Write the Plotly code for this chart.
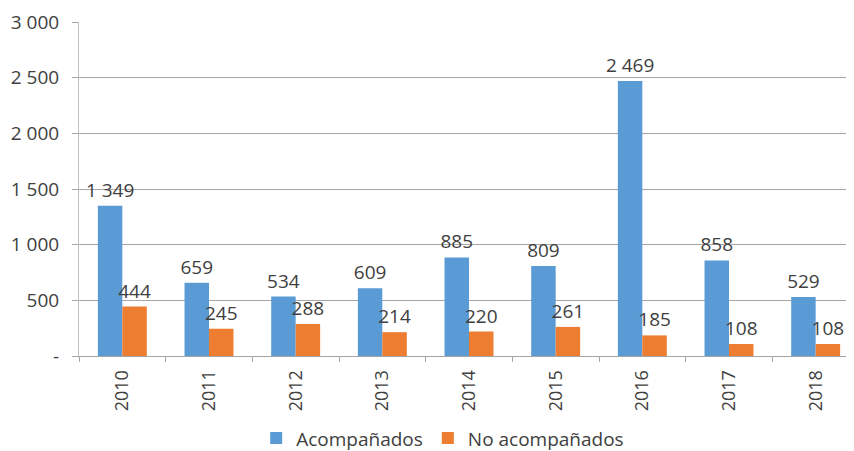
import plotly.graph_objects as go

years = ["2010", "2011", "2012", "2013", "2014", "2015", "2016", "2017", "2018"]
acompanados = [1349, 659, 534, 609, 885, 809, 2469, 858, 529]
no_acompanados = [444, 245, 288, 214, 220, 261, 185, 108, 108]
y_tickvals = [0, 500, 1000, 1500, 2000, 2500, 3000]
y_ticktext = ["-", "500", "1 000", "1 500", "2 000", "2 500", "3 000"]

FONT = "Open Sans"
TXT = "#404040"

def fmt(v):
    return f"{v:,}".replace(",", " ")

fig = go.Figure()
fig.add_trace(go.Bar(
    x=years, y=acompanados, name="Acompañados",
    marker=dict(color="#5B9BD5", line=dict(width=0)),
    text=[fmt(v) for v in acompanados], textposition="outside", constraintext="none",
    textfont=dict(size=19, color=TXT, family=FONT), cliponaxis=False,
))
fig.add_trace(go.Bar(
    x=years, y=no_acompanados, name="No acompañados",
    marker=dict(color="#ED7D31", line=dict(width=0)),
    text=[fmt(v) for v in no_acompanados], textposition="outside", constraintext="none",
    textfont=dict(size=19, color=TXT, family=FONT), cliponaxis=False,
))

# page body has an 8px default margin, so figure coords are offset by 8px
fig.update_layout(
    width=854, height=451,
    margin=dict(l=71, r=3, t=14, b=103),
    paper_bgcolor="white", plot_bgcolor="white",
    barmode="group", bargap=0.435, bargroupgap=0,
    font=dict(family=FONT, size=18, color=TXT),
    showlegend=True,
    legend=dict(orientation="h", xref="container", yref="container",
                x=0.509, xanchor="center", y=0.046, yanchor="middle",
                font=dict(size=19, color=TXT), itemwidth=30,
                traceorder="normal"),
    xaxis=dict(
        type="category", tickangle=-90, showline=True, linecolor="#A6A6A6", linewidth=1,
        ticks="outside", tickson="boundaries", ticklen=5, tickcolor="#A6A6A6",
        tickfont=dict(size=18, color=TXT), showgrid=False, automargin=False,
        ticklabelstandoff=6,
    ),
    yaxis=dict(
        range=[0, 3000], tickvals=y_tickvals, ticktext=y_ticktext,
        showgrid=True, gridcolor="#A6A6A6", gridwidth=1,
        showline=True, linecolor="#BFBFBF", linewidth=1,
        ticks="outside", ticklen=6, tickcolor="#A6A6A6",
        tickfont=dict(size=19, color=TXT), zeroline=False, ticklabelstandoff=9,
        automargin=False,
    ),
)

fig.write_html("out.html")
